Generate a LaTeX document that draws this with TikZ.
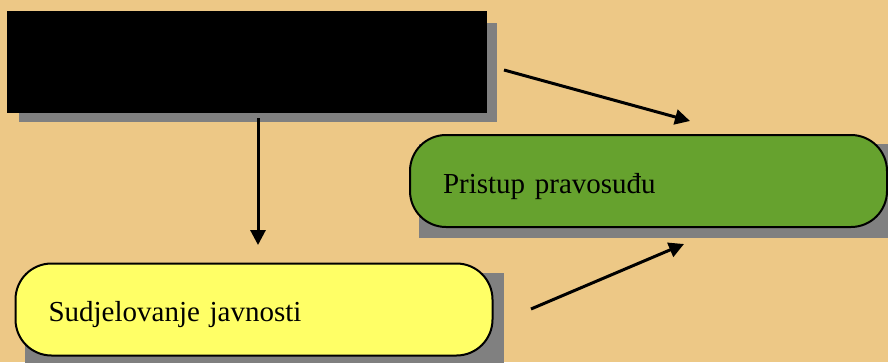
\documentclass[tikz,border=0pt]{standalone}
\usepackage{fontspec}
\setmainfont{Liberation Serif}
\usetikzlibrary{arrows.meta,positioning,backgrounds}
\definecolor{bgtan}{RGB}{237,200,134}
\definecolor{sjenagray}{RGB}{128,128,128}
\definecolor{zelena}{RGB}{102,162,46}
\definecolor{zuta}{RGB}{255,255,102}
\tikzstyle{arrow} = [line width=3pt,-{Triangle[length=15pt,width=15pt]},color=black]
\tikzstyle{crnibox} = [rectangle, minimum width=480pt, minimum height=102pt, fill=black, inner sep=0pt]
\tikzstyle{okvir} = [rectangle, rounded corners=36pt, draw=black, line width=2pt, minimum height=92pt, text width=411pt, inner xsep=33pt, inner ysep=0pt, align=left, text height=24pt, text depth=0pt, font=\fontsize{29}{34}\selectfont]
\tikzstyle{sjena} = [fill=sjenagray]

\begin{document}
\begin{tikzpicture}[x=1pt,y=-1pt]
\useasboundingbox (0,0) rectangle (888,362);

% Boxes
\node[crnibox] (crni) at (247,62) {};
\node[okvir, fill=zelena] (pristup) at (648.5,181) {Pristup pravosuđu};
\node[okvir, fill=zuta] (sudjelovanje) at (254,309.5) {Sudjelovanje javnosti};

% Background and shadows
\begin{scope}[on background layer]
\fill[bgtan] (0,0) rectangle (888,362);
\fill[sjena] ([shift={(12,9)}]crni.south west) rectangle ([shift={(10,12)}]crni.north east);
\fill[sjena] ([shift={(10,10)}]pristup.south west) rectangle ([shift={(10,10)}]pristup.north east);
\fill[sjena] ([shift={(10,10)}]sudjelovanje.south west) rectangle ([shift={(10,10)}]sudjelovanje.north east);
\end{scope}

% Arrow ends
\coordinate (crniE) at (504,70);
\coordinate (crniS) at (258,118);
\coordinate (pristupN) at (690,121);
\coordinate (pristupS) at (684,244);
\coordinate (sudjN) at (258,245);
\coordinate (sudjE) at (531,309);

% Arrows
\draw[arrow] (crniE) -- (pristupN);
\draw[arrow] (crniS) -- (sudjN);
\draw[arrow] (sudjE) -- (pristupS);
\end{tikzpicture}
\end{document}
